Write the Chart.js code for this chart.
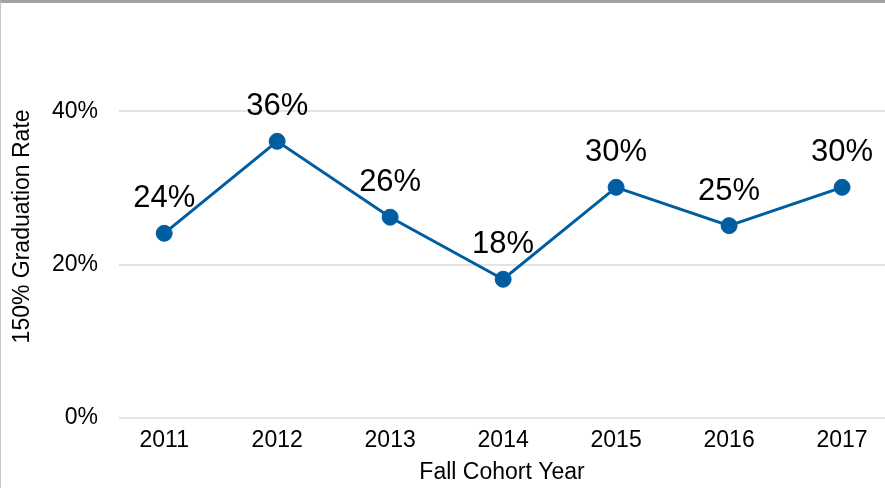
<!DOCTYPE html>
<html>
<head>
<meta charset="utf-8">
<script src="https://cdn.jsdelivr.net/npm/chart.js@4"></script>
<style>
  html, body { margin: 0; padding: 0; background: #fff; }
  #wrap { position: relative; width: 885px; height: 488px; overflow: hidden; }
  #frame { position: absolute; left: 0; top: 0; width: 885px; height: 488px; box-sizing: border-box;
           border-top: 3px solid #a3a3a3; border-left: 1px solid #c4c4c4; pointer-events: none; }
</style>
</head>
<body>
<div id="wrap">
  <canvas id="rateChart" width="885" height="488"></canvas>
  <div id="frame"></div>
</div>
<script>
// cohort years and 150% graduation rates
const years = [2011, 2012, 2013, 2014, 2015, 2016, 2017];
const rates = [0.241, 0.361, 0.262, 0.181, 0.301, 0.251, 0.301];
const yTicks = [0, 0.2, 0.4];

const blue = "#005da0";
const font = "'Liberation Sans', Arial, sans-serif";

// draw the % labels above each point
const pointLabels = {
  id: "pointLabels",
  afterDatasetsDraw(chart) {
    const ctx = chart.ctx;
    const meta = chart.getDatasetMeta(0);
    ctx.save();
    ctx.font = "31px " + font;
    ctx.fillStyle = "#000";
    ctx.textAlign = "center";
    ctx.textBaseline = "alphabetic";
    meta.data.forEach((pt, i) => {
      ctx.fillText(Math.round(rates[i] * 100) + "%", pt.x, pt.y - 26);
    });
    ctx.restore();
  }
};

new Chart(document.getElementById("rateChart"), {
  type: "line",
  data: {
    datasets: [{
      data: years.map((y, i) => ({ x: y, y: rates[i] })),
      borderColor: blue,
      backgroundColor: blue,
      borderWidth: 3,
      pointRadius: 8,
      pointBorderWidth: 1,
      pointBackgroundColor: blue,
      tension: 0
    }]
  },
  options: {
    responsive: false,
    animation: false,
    layout: { autoPadding: false, padding: { top: 33, right: 0, bottom: 0, left: 0 } },
    plugins: { legend: { display: false }, tooltip: { enabled: false } },
    scales: {
      x: {
        type: "linear",
        min: 2010.6,
        max: 2017.38,
        afterBuildTicks: (axis) => { axis.ticks = years.map(v => ({ value: v })); },
        afterFit: (scale) => { scale.height = 70; },
        grid: { display: false, drawTicks: false },
        border: { display: false },
        ticks: {
          padding: 9,
          color: "#000",
          font: { family: font, size: 23 },
          callback: (v) => String(v)
        },
        title: {
          display: true,
          text: "Fall Cohort Year",
          color: "#000",
          font: { family: font, size: 23 },
          padding: { top: 0, bottom: 2 }
        }
      },
      y: {
        min: 0,
        max: 0.5,
        afterBuildTicks: (axis) => { axis.ticks = yTicks.map(v => ({ value: v })); },
        afterFit: (scale) => { scale.width = 119; },
        grid: { color: "#e4e4e4", lineWidth: 2, drawTicks: false },
        border: { display: false },
        ticks: {
          padding: 21,
          color: "#000",
          font: { family: font, size: 23 },
          callback: (v) => Math.round(v * 100) + "%"
        },
        title: {
          display: true,
          text: "150% Graduation Rate",
          color: "#000",
          font: { family: font, size: 23 },
          padding: { top: 9, bottom: 0 }
        }
      }
    }
  },
  plugins: [pointLabels]
});
</script>
</body>
</html>
